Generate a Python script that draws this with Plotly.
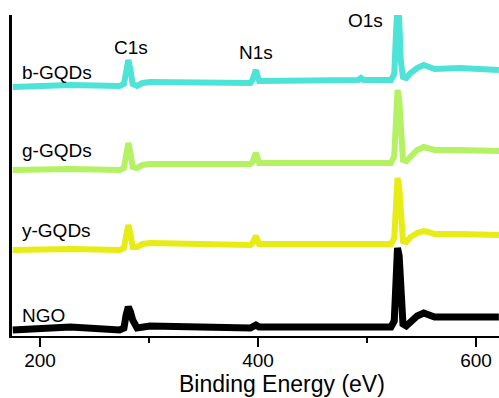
import plotly.graph_objects as go

# Binding energy knots (eV)
energy = [175, 228, 273, 277, 279, 281, 283, 285, 289, 294, 301, 393, 395, 398, 401,
          439, 492, 494.5, 497, 522, 525, 526.5, 528, 529.5, 531, 533, 536, 540, 546,
          552, 556, 562, 585, 621]

# Intensities (arbitrary units, stacked with offsets as in the figure)
b_gqds = [249, 251, 250, 252, 264, 276, 266, 252, 250, 253, 254, 253, 256, 266, 255,
          255, 256, 258, 256, 256, 262, 300, 330, 318, 275, 259, 258, 263, 268,
          271, 270, 267, 268, 266]
g_gqds = [166, 167, 166, 168, 181, 193, 183, 169, 168, 171, 172, 172, 174, 183, 173,
          173, 173, 174, 173, 173, 180, 215, 246, 238, 200, 176, 175, 180, 186,
          189, 188, 186, 186, 185]
y_gqds = [86, 87, 86, 88, 100, 111, 102, 89, 89, 92, 93, 91, 93, 100, 92,
          92, 92, 93, 92, 92, 98, 135, 158, 150, 115, 95, 94, 99, 103,
          105, 104, 102, 102, 101]
ngo = [6, 9, 6, 8, 21, 29, 24, 16, 8, 9, 10, 8, 9, 11, 9,
       9, 9, 9, 9, 9, 15, 60, 88, 80, 40, 12, 10, 15, 20,
       23, 22, 19, 19, 19]

series = [("b-GQDs", b_gqds, "#4de3d7", 6),
          ("g-GQDs", g_gqds, "#b4f264", 6),
          ("y-GQDs", y_gqds, "#e6ec14", 6),
          ("NGO", ngo, "#000000", 7)]

sample_labels = ["b-GQDs", "g-GQDs", "y-GQDs", "NGO"]
sample_label_y = [264, 186, 106, 21]
peak_labels = ["C1s", "N1s", "O1s"]
peak_label_x = [283.5, 398.6, 499]
peak_label_y = [289, 284, 316]

tick_vals = [200, 400, 600]
tick_text = ["200", "400", "600"]

fig = go.Figure()
for name, vals, color, w in series:
    fig.add_trace(go.Scatter(x=energy, y=vals, mode="lines", name=name,
                             line=dict(color=color, width=w), showlegend=False))

font = dict(family="Liberation Sans, Arial, sans-serif", size=19, color="#000000")
for t, yy in zip(sample_labels, sample_label_y):
    fig.add_annotation(x=182, y=yy, text=t, showarrow=False, xanchor="left",
                       yanchor="middle", font=font)
for t, xx, yy in zip(peak_labels, peak_label_x, peak_label_y):
    fig.add_annotation(x=xx, y=yy, text=t, showarrow=False, xanchor="center",
                       yanchor="middle", font=font)

fig.add_annotation(xref="paper", yref="paper", x=0.554, y=-0.148,
                   text="Binding Energy (eV)", showarrow=False,
                   xanchor="center", yanchor="middle",
                   font=dict(family="Liberation Sans, Arial, sans-serif", size=23, color="#000000"))

fig.update_layout(
    width=499, height=398,
    margin=dict(l=12, r=0, t=15, b=62, autoexpand=False),
    paper_bgcolor="white", plot_bgcolor="white",
    xaxis=dict(range=[174.3, 621.1], tickvals=tick_vals, ticktext=tick_text,
               ticks="outside", ticklen=9, tickwidth=2, tickcolor="black",
               ticklabelstandoff=-3,
               showline=True, linecolor="black", linewidth=2,
               showgrid=False, zeroline=False, automargin=False,
               tickfont=dict(family="Liberation Sans, Arial, sans-serif", size=19, color="black"),
               minor=dict(tickvals=[300, 500], ticks="outside", ticklen=5,
                          tickwidth=2, tickcolor="black", showgrid=False)),
    yaxis=dict(range=[0, 321], showticklabels=False, ticks="",
               showline=True, linecolor="black", linewidth=3,
               showgrid=False, zeroline=False, automargin=False),
)

fig.write_html("out.html", config={"displayModeBar": False},
               post_script="document.body.style.margin='0';document.body.style.overflow='hidden';")
